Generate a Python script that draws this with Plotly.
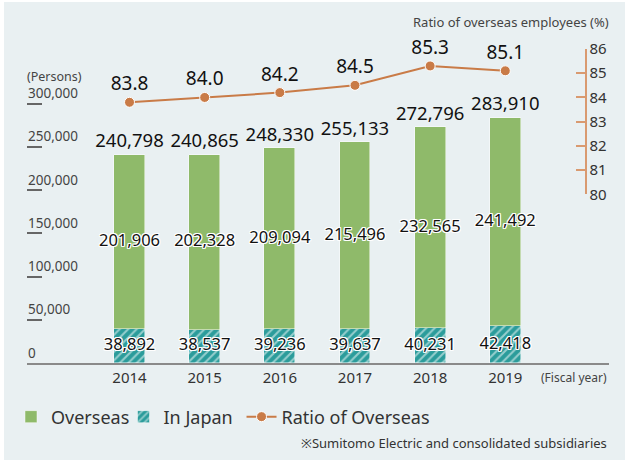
import plotly.graph_objects as go

# data
years = [2014, 2015, 2016, 2017, 2018, 2019]
in_japan = [38892, 38537, 39236, 39637, 40231, 42418]
overseas = [201906, 202328, 209094, 215496, 232565, 241492]
totals = [240798, 240865, 248330, 255133, 272796, 283910]
ratio = [83.8, 84.0, 84.2, 84.5, 85.3, 85.1]
persons_ticks = [0, 50000, 100000, 150000, 200000, 250000, 300000]
ratio_ticks = [80, 81, 82, 83, 84, 85, 86]

BG = "#e9f0f2"
GREEN = "#8fba6a"
TEAL = "#2b9c9b"
ORANGE = "#c97b47"
ORANGE_AX = "#d99a70"
FONT = "Noto Sans"
WHITE_EDGE = "1px 1px 0 #fff, -1px -1px 0 #fff, 1px -1px 0 #fff, -1px 1px 0 #fff, 0 1px 0 #fff, 0 -1px 0 #fff, 1px 0 0 #fff, -1px 0 0 #fff"

fmt = lambda v: f"{v:,}"

fig = go.Figure()

fig.add_trace(go.Bar(x=years, y=in_japan, name="In Japan", width=0.41, legend="legend2",
                     marker=dict(color=TEAL, line=dict(color="rgba(255,255,255,0.6)", width=0.8),
                                 pattern=dict(shape="/", fgcolor="white", size=6, solidity=0.35)),
                     hoverinfo="skip"))
fig.add_trace(go.Bar(x=years, y=overseas, name="Overseas", width=0.41, legend="legend",
                     marker=dict(color=GREEN, line=dict(color="rgba(255,255,255,0.6)", width=0.8)),
                     hoverinfo="skip"))

# value labels
fig.add_trace(go.Scatter(x=years, y=[j / 2 for j in in_japan], mode="text",
                         text=[fmt(v) for v in in_japan], showlegend=False, cliponaxis=False,
                         textfont=dict(family=FONT, size=16.5, color="#111", shadow=WHITE_EDGE),
                         hoverinfo="skip"))
fig.add_trace(go.Scatter(x=years, y=[j + o / 2 for j, o in zip(in_japan, overseas)], mode="text",
                         text=[fmt(v) for v in overseas], showlegend=False, cliponaxis=False,
                         textfont=dict(family=FONT, size=16.5, color="#111", shadow=WHITE_EDGE),
                         hoverinfo="skip"))
fig.add_trace(go.Scatter(x=years, y=totals, mode="markers+text", textposition="top center",
                         text=[fmt(v) for v in totals], showlegend=False, cliponaxis=False,
                         marker=dict(size=3, opacity=0),
                         textfont=dict(family=FONT, size=18.5, color="#111"), hoverinfo="skip"))

fig.add_trace(go.Scatter(x=years, y=ratio, yaxis="y2", name="Ratio of Overseas", legend="legend3",
                         mode="lines+markers+text", text=[f"{v:.1f}" for v in ratio],
                         textposition="top center", cliponaxis=False,
                         line=dict(color=ORANGE, width=2),
                         marker=dict(color=ORANGE, size=10, line=dict(color="white", width=1)),
                         textfont=dict(family=FONT, size=19, color="#111"),
                         hoverinfo="skip"))

leg = dict(orientation="h", y=-0.167, yanchor="middle", xanchor="left",
           font=dict(size=18, color="#333"), bgcolor="rgba(0,0,0,0)", itemwidth=30)

fig.update_layout(
    width=625, height=465,
    margin=dict(l=27, r=16, t=40, b=102, autoexpand=False),
    paper_bgcolor="white", plot_bgcolor="rgba(0,0,0,0)",
    barmode="stack", bargap=0,
    font=dict(family=FONT, color="#333"),
    showlegend=True,
    legend=dict(leg, x=-0.0275),
    legend2=dict(leg, x=0.1658),
    legend3=dict(leg, x=0.3686),
    xaxis=dict(range=[2012.636, 2020.38], tickvals=years, ticktext=[str(y) for y in years],
               showgrid=False, zeroline=False, showline=True, linecolor="#8a8a8a", linewidth=2,
               ticks="", tickfont=dict(size=15, color="#333")),
    yaxis=dict(range=[0, 373700], tickvals=persons_ticks, ticktext=[fmt(v) for v in persons_ticks],
               showgrid=False, zeroline=False, showline=False,
               ticks="inside", ticklen=15, tickwidth=1.5, tickcolor="#666",
               ticklabelposition="inside top", ticklabelstandoff=-2,
               tickfont=dict(size=13.5, color="#444")),
    yaxis2=dict(range=[80, 86], domain=[0.5223, 0.9721], anchor="free", position=0.96,
                side="right", tickvals=ratio_ticks, showgrid=False, zeroline=False,
                showline=True, linecolor=ORANGE_AX, linewidth=1.5,
                ticks="inside", ticklen=9, tickwidth=1.5, tickcolor=ORANGE_AX,
                tickfont=dict(size=15, color="#333")),
    shapes=[dict(type="rect", xref="paper", yref="paper", x0=-0.0395, x1=1.03, y0=-0.30, y1=1.118,
                 fillcolor=BG, line=dict(width=0), layer="below")],
    annotations=[
        dict(text="Ratio of overseas employees (%)", x=1.003, y=1.0557, xref="paper", yref="paper",
             xanchor="right", yanchor="middle", showarrow=False, font=dict(size=13, color="#444")),
        dict(text="(Persons)", x=-0.004, y=0.8885, xref="paper", yref="paper",
             xanchor="left", yanchor="middle", showarrow=False, font=dict(size=12.5, color="#444")),
        dict(text="(Fiscal year)", x=1, y=-0.0464, xref="paper", yref="paper",
             xanchor="right", yanchor="middle", showarrow=False, font=dict(size=12, color="#444")),
        dict(text="※Sumitomo Electric and consolidated subsidiaries", x=1, y=-0.248,
             xref="paper", yref="paper", xanchor="right", yanchor="middle", showarrow=False,
             font=dict(size=13, color="#333")),
    ],
)

fig.write_html("out.html", config={"displayModeBar": False},
               post_script="document.body.style.margin='0';")
